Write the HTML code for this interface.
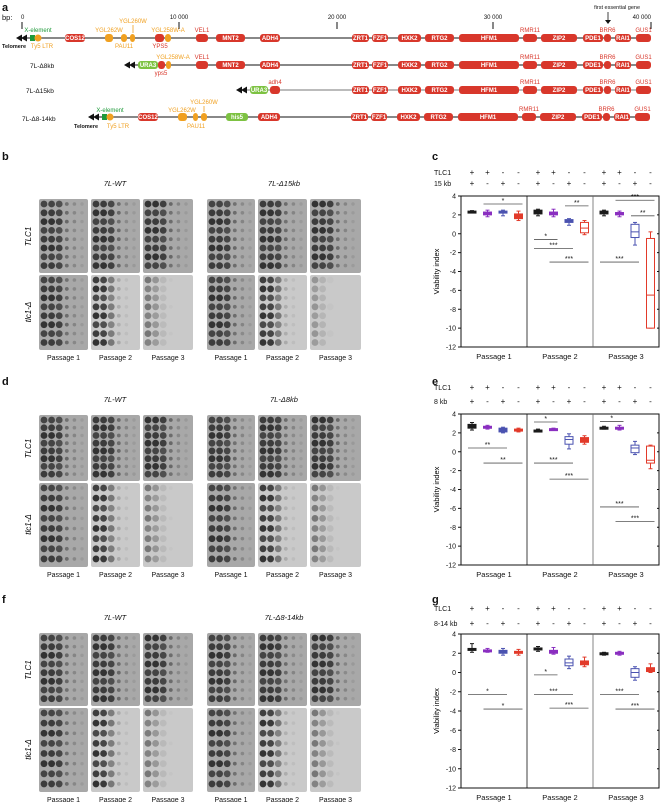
<!DOCTYPE html>
<html><head><meta charset="utf-8"><style>
html,body{margin:0;padding:0;background:#fff;}
svg{display:block;font-family:"Liberation Sans",Arial,sans-serif;}
</style></head><body>
<svg id="fig" width="660" height="802" viewBox="0 0 660 802" xmlns="http://www.w3.org/2000/svg"></svg>
<script>
// ---------- chart data ----------
const passages = ["Passage 1","Passage 2","Passage 3"];
const yTicks = [4,2,0,-2,-4,-6,-8,-10,-12];
const tlc1Signs = ["+","+","-","-"];
const delSigns = ["+","-","+","-"];
const boxColors = ["#1a1a1a","#8a2fc0","#4a52b0","#e23a2a"];
// [min,q1,median,q3,max] per box, 12 boxes (passage-major)
const boxesC = [[2.2,2.3,2.35,2.4,2.45],[1.8,2.0,2.15,2.3,2.5],[1.9,2.2,2.3,2.4,2.5],[1.4,1.6,1.85,2.1,2.4],
 [1.9,2.1,2.3,2.5,2.6],[1.8,2.0,2.1,2.3,2.6],[0.9,1.2,1.35,1.5,1.6],[-0.1,0.1,0.6,1.2,1.4],
 [1.9,2.1,2.25,2.4,2.5],[1.8,2.0,2.1,2.25,2.4],[-1.2,-0.4,0.2,1.0,1.2],[-10,-10,-6.5,-0.5,0.2]];
const boxesE = [[2.3,2.5,2.6,2.9,3.1],[2.4,2.5,2.6,2.7,2.8],[2.0,2.1,2.3,2.5,2.6],[2.1,2.2,2.3,2.4,2.5],
 [2.1,2.2,2.25,2.3,2.4],[2.3,2.35,2.4,2.45,2.5],[0.3,0.8,1.3,1.6,1.9],[0.8,1.0,1.3,1.5,1.7],
 [2.4,2.5,2.55,2.6,2.7],[2.3,2.4,2.45,2.6,2.8],[-0.3,-0.1,0.4,0.7,1.1],[-1.8,-1.2,-0.9,0.6,0.7]];
const boxesG = [[2.1,2.3,2.4,2.5,3.0],[2.1,2.2,2.25,2.35,2.5],[1.8,2.0,2.1,2.3,2.5],[1.8,2.0,2.1,2.2,2.4],
 [2.2,2.35,2.45,2.55,2.7],[1.9,2.0,2.15,2.3,2.6],[0.4,0.7,1.0,1.4,1.7],[0.6,0.8,1.0,1.2,1.6],
 [1.8,1.85,1.95,2.05,2.1],[1.8,1.9,2.0,2.1,2.2],[-0.8,-0.5,0,0.4,0.6],[0,0.1,0.3,0.5,0.9]];
// significance: [passage, boxA, boxB, yValue, label]
const sigC = [[0,1,3,3.15,"*"],[1,0,1,-0.6,"*"],[1,0,2,-1.55,"***"],[1,1,3,-3.0,"***"],[1,2,3,2.95,"**"],
 [2,0,2,-3.0,"***"],[2,1,3,3.55,"***"],[2,2,3,1.9,"**"]];
const sigE = [[0,0,2,0.4,"**"],[0,1,3,-1.2,"**"],[1,0,1,3.15,"*"],[1,0,2,-1.2,"***"],[1,1,3,-2.9,"***"],
 [2,0,1,3.2,"*"],[2,0,2,-5.85,"***"],[2,1,3,-7.4,"***"]];
const sigG = [[0,0,2,-2.3,"*"],[0,1,3,-3.8,"*"],[1,0,1,-0.25,"*"],[1,0,2,-2.3,"***"],[1,1,3,-3.7,"***"],
 [2,0,2,-2.3,"***"],[2,1,3,-3.8,"***"]];

const NS="http://www.w3.org/2000/svg";
const svg=document.getElementById('fig');
function el(tag,attrs,parent,txt){const e=document.createElementNS(NS,tag);for(const k in attrs)e.setAttribute(k,attrs[k]);if(txt!==undefined)e.textContent=txt;(parent||svg).appendChild(e);return e;}
function txt(x,y,s,size,opts,parent){opts=opts||{};const t=el('text',Object.assign({x:x,y:y,'font-size':size,fill:opts.fill||'#111','text-anchor':opts.anchor||'start'},opts.extra||{}),parent,s);return t;}

// ---------- panel labels ----------
[["a",2,11],["b",2,160],["c",432,160],["d",2,385],["e",432,385],["f",2,603],["g",432,603]].forEach(p=>{
 const t=txt(p[1],p[2],p[0],11,{extra:{'font-weight':'bold'}});
 
 
});

// ---------- panel a: gene map ----------
const gA=el('g',{});
txt(2,20,"bp:",7.5,{},gA);
[[22,"0"],[179,"10 000"],[337,"20 000"],[493,"30 000"],[651,"40 000"]].forEach(t=>{
 el('line',{x1:t[0],y1:22,x2:t[0],y2:29,stroke:'#111','stroke-width':1},gA);
 txt(t[0],19,t[1],6,{anchor:t[0]>640?'end':(t[0]<30?'start':'middle'),extra:t[0]<30?{x:t[0]-1}:{}},gA);
});
txt(640,9,"first essential gene",5.5,{anchor:'end'},gA);
el('line',{x1:608,y1:12,x2:608,y2:22,stroke:'#111','stroke-width':0.8},gA);
el('path',{d:'M605,20 L611,20 L608,24Z',fill:'#111'},gA);
const RED='#d8372b',ORG='#f0a020',GRN='#7dc242',DGRN='#1e9a3a';
const rightGenes=[["ZRT1",352,369],["FZF1",372,388],["HXK2",398,421],["RTG2",425,454],["HFM1",459,519],["RMR11",523,537,1],["ZIP2",541,577],["PDE1",583,603],["BRR6",604,611,1],["RAI1",615,631],["GUS1",636,651,1]];
function gene(y,name,x1,x2,col,labelAbove,labelCol){
 el('rect',{x:x1,y:y-4,width:x2-x1,height:8,rx:3,fill:col},gA);
 if(labelAbove===1) txt((x1+x2)/2,y-6,name,6,{anchor:'middle',fill:labelCol||col},gA);
 else if(labelAbove===2) txt((x1+x2)/2,y+11,name,6,{anchor:'middle',fill:labelCol||col},gA);
 else if(!labelAbove) txt((x1+x2)/2,y+2.2,name,6,{anchor:'middle',fill:'#fff',extra:{'font-weight':'bold'}},gA);
}
function arrows(x,y){for(let i=0;i<2;i++)el('path',{d:`M${x+i*5},${y} L${x+i*5+6},${y-3.5} L${x+i*5+6},${y+3.5}Z`,fill:'#111'},gA);}
// row 1
el('line',{x1:24,y1:38,x2:651,y2:38,stroke:'#111','stroke-width':1},gA);
arrows(16,38);
el('rect',{x:30,y:35,width:5,height:6,fill:DGRN},gA);
el('circle',{cx:38,cy:38,r:3.5,fill:ORG},gA);
txt(38,32,"X-element",6,{anchor:'middle',fill:DGRN},gA);
txt(42,48,"Ty5 LTR",6,{anchor:'middle',fill:ORG},gA);
txt(2,48,"Telomere",5.5,{extra:{'font-weight':'bold'}},gA);
gene(38,"COS12",65,85,RED);
gene(38,"",105,113,ORG,3); txt(109,32,"YGL262W",6,{anchor:'middle',fill:ORG},gA);
gene(38,"",121,127,ORG,3); txt(124,48,"PAU11",6,{anchor:'middle',fill:ORG},gA);
gene(38,"",130,135,ORG,3); txt(133,23,"YGL260W",6,{anchor:'middle',fill:ORG},gA);
el('line',{x1:133,y1:25,x2:133,y2:33,stroke:ORG,'stroke-width':0.8},gA);
gene(38,"",155,164,RED,3); txt(160,48,"YPS5",6,{anchor:'middle',fill:RED},gA);
gene(38,"",165,171,ORG,3); txt(168,32,"YGL258W-A",6,{anchor:'middle',fill:ORG},gA);
gene(38,"VEL1",196,208,RED,1);
gene(38,"MNT2",216,245,RED); gene(38,"ADH4",260,280,RED);
rightGenes.forEach(g=>gene(38,g[0],g[1],g[2],RED,g[3]));
// row 2
txt(30,68,"7L-Δ8kb",6.5,{},gA);
el('line',{x1:132,y1:65,x2:651,y2:65,stroke:'#111','stroke-width':1},gA);
arrows(124,65);
el('rect',{x:138,y:61,width:20,height:8,rx:3,fill:GRN},gA); txt(148,67.2,"URA3",6,{anchor:'middle',fill:'#fff',extra:{'font-weight':'bold'}},gA);
gene(65,"",158,165,RED,3); txt(161,75,"yps5",6,{anchor:'middle',fill:RED},gA);
gene(65,"",166,171,ORG,3); txt(173,59,"YGL258W-A",6,{anchor:'middle',fill:ORG},gA);
gene(65,"VEL1",196,208,RED,1); gene(65,"MNT2",216,245,RED); gene(65,"ADH4",260,280,RED);
rightGenes.forEach(g=>gene(65,g[0],g[1],g[2],RED,g[3]));
// row 3
txt(26,93,"7L-Δ15kb",6.5,{},gA);
el('line',{x1:244,y1:90,x2:651,y2:90,stroke:'#777','stroke-width':1},gA);
arrows(236,90);
el('rect',{x:250,y:86,width:18,height:8,rx:3,fill:GRN},gA); txt(259,92.2,"URA3",6,{anchor:'middle',fill:'#fff',extra:{'font-weight':'bold'}},gA);
gene(90,"",270,280,RED,3); txt(275,84,"adh4",6,{anchor:'middle',fill:RED},gA);
rightGenes.forEach(g=>gene(90,g[0],g[1],g[2],RED,g[3]));
// row 4
txt(22,121,"7L-Δ8-14kb",6.5,{},gA);
el('line',{x1:96,y1:117,x2:650,y2:117,stroke:'#111','stroke-width':1},gA);
arrows(88,117);
el('rect',{x:102,y:114,width:5,height:6,fill:DGRN},gA);
el('circle',{cx:110,cy:117,r:3.5,fill:ORG},gA);
txt(110,112,"X-element",6,{anchor:'middle',fill:DGRN},gA);
txt(118,128,"Ty5 LTR",6,{anchor:'middle',fill:ORG},gA);
txt(74,128,"Telomere",5.5,{extra:{'font-weight':'bold'}},gA);
gene(117,"COS12",138,158,RED);
gene(117,"",178,187,ORG,3); txt(182,112,"YGL262W",6,{anchor:'middle',fill:ORG},gA);
gene(117,"",193,198,ORG,3); txt(196,128,"PAU11",6,{anchor:'middle',fill:ORG},gA);
gene(117,"",201,207,ORG,3); txt(204,104,"YGL260W",6,{anchor:'middle',fill:ORG},gA);
el('line',{x1:204,y1:106,x2:204,y2:112,stroke:ORG,'stroke-width':0.8},gA);
el('rect',{x:226,y:113,width:22,height:8,rx:3,fill:GRN},gA); txt(237,119.2,"his5",6,{anchor:'middle',fill:'#fff',extra:{'font-weight':'bold'}},gA);
gene(117,"ADH4",258,280,RED);
rightGenes.forEach(g=>gene(117,g[0],g[1]-1,g[2]-1,RED,g[3]));

// ---------- plates ----------
const plateXs=[[39,88],[91,140],[143,193],[207,255],[258,307],[310,361]];
const dens={full:[1,1,0.9,0.55,0.3,0.12],p2t:[1,0.95,0.55,0.2,0.08,0],p3t:[0.55,0.35,0.1,0.03,0,0],p3x:[0.35,0.15,0.03,0,0,0]};
function plateBlock(top,mid,bot,titles,tPatterns,name){
 const g=el('g',{});
 txt(115,top-13,titles[0],7.5,{anchor:'middle',extra:{'font-style':'italic'}},g);
 txt(284,top-13,titles[1],7.5,{anchor:'middle',extra:{'font-style':'italic'}},g);
 el('text',{x:0,y:0,'font-size':8,'text-anchor':'middle','font-style':'italic',transform:`translate(31,${(top+mid)/2}) rotate(-90)`},g,"TLC1");
 el('text',{x:0,y:0,'font-size':8,'text-anchor':'middle','font-style':'italic',transform:`translate(31,${(mid+bot)/2}) rotate(-90)`},g,"tlc1-Δ");
 plateXs.forEach((px,i)=>{
  [[top,mid-1,'full',0],[mid+1,bot,tPatterns[i],1]].forEach(r=>{
   const w=px[1]-px[0],h=r[1]-r[0];
   const light=r[3]===1&&(i%3)>0;
   el('rect',{x:px[0],y:r[0],width:w,height:h,fill:light?'#c9c9c9':'#a8a8a8',rx:2},g);
   const d=dens[r[2]];
   for(let row=0;row<8;row++)for(let c=0;c<6;c++){
    const a=d[c]*(0.85+0.15*((row*7+c*3+i)%3)/2); if(a<0.03)continue;
    el('circle',{cx:px[0]+5+c*7.6,cy:r[0]+5+row*(h-8)/7.5,r:c<3?3.4:2.2-c*0.1,fill:'#333','fill-opacity':Math.min(1,a)},g);
   }
  });
  txt((px[0]+px[1])/2,bot+10,passages[i%3],7,{anchor:'middle'},g);
 });
}
plateBlock(199,274,350,["7L-WT","7L-Δ15kb"],['full','p2t','p3t','full','p2t','p3x'],'plates-b');
plateBlock(415,482,567,["7L-WT","7L-Δ8kb"],['full','p2t','p3t','full','p2t','p3t'],'plates-d');
plateBlock(633,707,792,["7L-WT","7L-Δ8-14kb"],['full','p2t','p3t','full','p2t','p3t'],'plates-f');

// ---------- box plot panels ----------
function panel(top,bot,boxes,sigs,delLabel,row1y,row2y,name){
 const g=el('g',{});
 const L=461,R=659,W=R-L;
 const yS=v=>top+(4-v)*(bot-top)/16;
 const secW=W/3;
 const bx=(p,i)=>L+p*secW+11+i*15.5;
 txt(434,row1y+3,"TLC1",7,{},g);
 txt(434,row2y+3,delLabel,7,{},g);
 for(let p=0;p<3;p++)for(let i=0;i<4;i++){
  txt(bx(p,i),row1y+3,tlc1Signs[i],8,{anchor:'middle'},g);
  txt(bx(p,i),row2y+3,delSigns[i],8,{anchor:'middle'},g);
 }
 el('rect',{x:L,y:top,width:W,height:bot-top,fill:'none',stroke:'#111','stroke-width':1},g);
 el('line',{x1:L+secW,y1:top,x2:L+secW,y2:bot,stroke:'#111','stroke-width':0.8},g);
 el('line',{x1:L+2*secW,y1:top,x2:L+2*secW,y2:bot,stroke:'#666','stroke-width':0.8},g);
 yTicks.forEach(t=>{
  el('line',{x1:L-3,y1:yS(t),x2:L,y2:yS(t),stroke:'#111'},g);
  el('line',{x1:R,y1:yS(t),x2:R-2,y2:yS(t),stroke:'#111'},g);
  txt(L-5,yS(t)+2.5,String(t),7,{anchor:'end'},g);
 });
 el('text',{x:0,y:0,'font-size':7.5,'text-anchor':'middle',transform:`translate(439,${(top+bot)/2}) rotate(-90)`},g,"Viability index");
 passages.forEach((s,p)=>txt(L+p*secW+secW/2,bot+12,s,7.5,{anchor:'middle'},g));
 boxes.forEach((b,k)=>{
  const p=Math.floor(k/4),i=k%4,x=bx(p,i),c=boxColors[i];
  const bg=el('g',{},g);
  
  
  el('line',{x1:x,y1:yS(b[0]),x2:x,y2:yS(b[4]),stroke:c,'stroke-width':1},bg);
  [b[0],b[4]].forEach(v=>el('line',{x1:x-2,y1:yS(v),x2:x+2,y2:yS(v),stroke:c},bg));
  const h=Math.max(2,yS(b[1])-yS(b[3]));
  el('rect',{x:x-4,y:yS(b[3]),width:8,height:h,fill:h<5?c:'#fff',stroke:c,'stroke-width':1},bg);
  el('line',{x1:x-4,y1:yS(b[2]),x2:x+4,y2:yS(b[2]),stroke:c,'stroke-width':1},bg);
 });
 sigs.forEach(s=>{
  const x1=bx(s[0],s[1])-4,x2=bx(s[0],s[2])+4,y=yS(s[3]);
  const sl=el('line',{x1:x1,y1:y,x2:x2,y2:y,stroke:'#555','stroke-width':0.8},g);
  
  
  txt((x1+x2)/2,y-1,s[4],7,{anchor:'middle'},g);
 });
}
panel(196,347,boxesC,sigC,"15 kb",172,183,'chart-c');
panel(414,565,boxesE,sigE,"8 kb",387,401,'chart-e');
panel(634,788,boxesG,sigG,"8-14 kb",608,623,'chart-g');
</script>
</body></html>
